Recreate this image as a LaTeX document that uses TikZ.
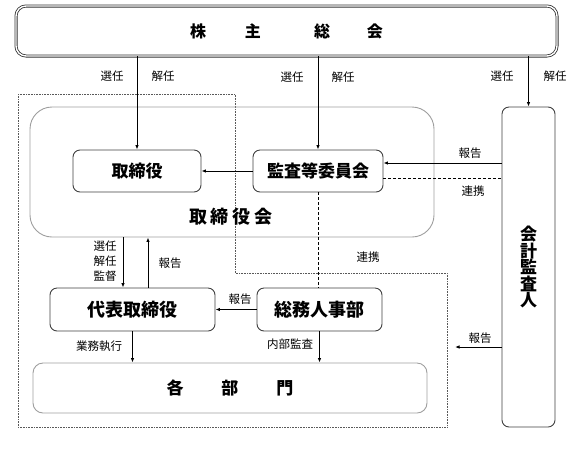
\documentclass[tikz,border=0pt]{standalone}
\usepackage{fontspec}
\setmainfont{Noto Sans CJK JP}
\usetikzlibrary{arrows.meta}
\begin{document}
\begin{tikzpicture}[x=1pt,y=-1pt,
  lbl/.style={font=\fontsize{11.5}{13}\selectfont, inner sep=0pt},
  box/.style={draw=black!75, line width=0.9pt, rounded corners=7pt, inner sep=0pt, fill=white},
  gbox/.style={draw=black!38, line width=0.9pt, inner sep=0pt},
  arr/.style={-{Latex[length=4.5pt,width=3.5pt]}, line width=0.9pt},
  dsh/.style={dashed, dash pattern=on 3pt off 2pt, line width=0.9pt},
]
\useasboundingbox (0,0) rectangle (567,456);

% dotted outline
\draw[densely dotted, draw=black!65, line width=0.6pt] (18,94) -- (235,94) -- (235,273) -- (447,273) -- (447,427) -- (18,427) -- cycle;

% board of directors
\node[gbox, rounded corners=22pt, minimum width=404pt, minimum height=130pt] (kai) at (232,172) {};
\node[inner sep=0pt, font=\bfseries\fontsize{18}{20}\selectfont] (kailbl) at (231,217) {取\hspace{4pt}締\hspace{4pt}役\hspace{4pt}会};

% departments
\node[gbox, rounded corners=10pt, minimum width=394pt, minimum height=50pt] (kakubu) at (230,388) {};
\node[inner sep=0pt, font=\bfseries\fontsize{17}{19}\selectfont] (kakubulbl) at (230,388) {各\hspace{38pt}部\hspace{38pt}門};

% shareholders meeting
\node[draw=black!80, double=white, double distance=1.4pt, line width=0.8pt, rounded corners=10pt, minimum width=541pt, minimum height=50pt, inner sep=0pt] (kabu) at (286.5,31) {};
\node[inner sep=0pt, font=\bfseries\fontsize{16}{18}\selectfont] (kabulbl) at (286.5,31) {株\hspace{39pt}主\hspace{53pt}総\hspace{37pt}会};

% boxes
\node[box, minimum width=128pt, minimum height=42pt, font=\bfseries\fontsize{17}{19}\selectfont] (tori) at (137,171) {取締役};
\node[box, minimum width=130pt, minimum height=42pt, font=\bfseries\fontsize{17}{19}\selectfont] (kansa) at (318,171) {監査等委員会};
\node[box, minimum width=165pt, minimum height=43pt, font=\bfseries\fontsize{18}{20}\selectfont] (daihyo) at (132.5,309.5) {代表取締役};
\node[box, minimum width=125pt, minimum height=43pt, font=\bfseries\fontsize{18}{20}\selectfont] (soumu) at (319.5,309.5) {総務人事部};
\node[box, minimum width=53pt, minimum height=320pt, align=center, font=\bfseries\fontsize{17}{16.5}\selectfont] (kaikei) at (528.5,267) {会\\計\\監\\査\\人};

% election arrows
\draw[arr] (kabu.south -| tori.north) -- (tori.north);
\draw[arr] (kabu.south -| kansa.north) -- (kansa.north);
\draw[arr] (kabu.south -| kaikei.north) -- (kaikei.north);
\node[lbl] (l1) at (112,76) {選任};
\node[lbl] (l2) at (163,76) {解任};
\node[lbl] (l3) at (292,77) {選任};
\node[lbl] (l4) at (343,77) {解任};
\node[lbl] (l5) at (502,76) {選任};
\node[lbl] (l6) at (555,76) {解任};

% audit committee -> directors
\draw[arr] (kansa.west) -- (tori.east);

% accounting auditor <-> audit committee
\coordinate (k1) at ([yshift=8pt]kansa.east);
\coordinate (k2) at ([yshift=-7pt]kansa.east);
\draw[arr] (k1 -| kaikei.west) -- (k1);
\draw[dsh] (k2) -- (k2 -| kaikei.west);
\node[lbl] (l7) at (470,153) {報告};
\node[lbl] (l8) at (473,191) {連携};

% audit committee - general affairs
\draw[dsh] (kansa.south) -- (kansa.south |- soumu.north);
\node[lbl] (l9) at (368,257) {連携};

% board <-> representative director
\coordinate (d1) at ([xshift=-9.5pt]daihyo.north);
\coordinate (d2) at ([xshift=15.5pt]daihyo.north);
\draw[arr] (d1 |- kai.south) -- (d1);
\draw[arr] (d2) -- (d2 |- kai.south);
\node[lbl, align=center, font=\fontsize{11.5}{15}\selectfont] (l10) at (105,261) {選任\\解任\\監督};
\node[lbl] (l11) at (170,263) {報告};

% general affairs -> representative director
\draw[arr] (soumu.west) -- (daihyo.east);
\node[lbl] (l12) at (240,299) {報告};

% to departments
\draw[arr] (daihyo.south) -- (daihyo.south |- kakubu.north);
\node[lbl] (l13) at (99,346) {業務執行};
\draw[arr] (soumu.south) -- (soumu.south |- kakubu.north);
\node[lbl] (l14) at (290,344) {内部監査};

% accounting auditor report
\coordinate (r3) at (455,347);
\draw[arr] (r3 -| kaikei.west) -- (r3);
\node[lbl] (l15) at (480,338) {報告};
\end{tikzpicture}
\end{document}
